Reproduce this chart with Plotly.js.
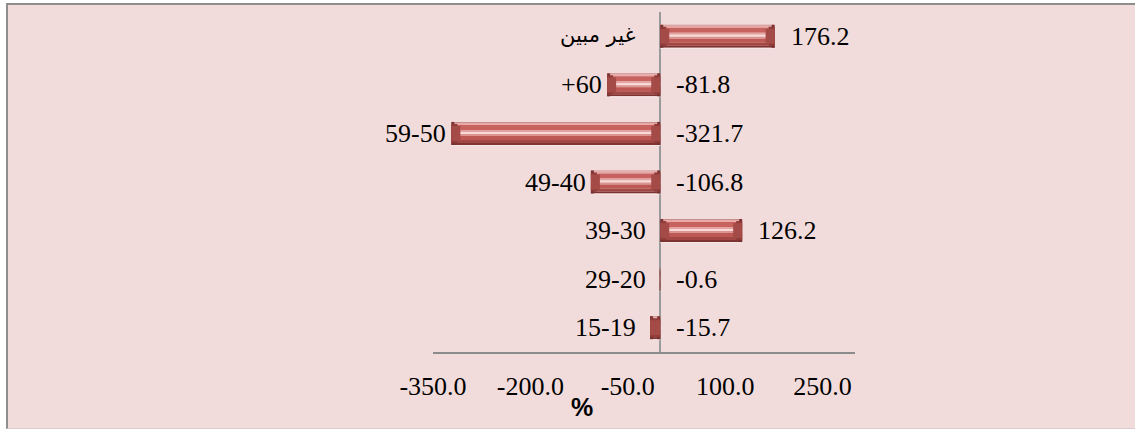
<!DOCTYPE html>
<html>
<head>
<meta charset="utf-8">
<script src="https://cdn.plot.ly/plotly-3.0.1.min.js"></script>
<style>
  html, body { margin: 0; padding: 0; background: #ffffff; width: 1135px; height: 430px; overflow: hidden; }
  #frame { position: absolute; left: 6px; top: 3px; border-left: 2px solid #8e8e8e; border-top: 2px solid #8e8e8e; border-bottom: 1px solid #d6cccc; width: 1127px; height: 423px; }
  #chart { width: 1127px; height: 423px; }
</style>
</head>
<body>
<div id="frame"><div id="chart"></div></div>
<script>
// Data
var categories = ["غير مبين", "+60", "59-50", "49-40", "39-30", "29-20", "15-19"];
var values = [176.2, -81.8, -321.7, -106.8, 126.2, -0.6, -15.7];
var valueLabels = ["176.2", "-81.8", "-321.7", "-106.8", "126.2", "-0.6", "-15.7"];
var tickValues = [-350, -200, -50, 100, 250];
var tickLabels = ["-350.0", "-200.0", "-50.0", "100.0", "250.0"];
var axisUnit = "%";

// Styling helpers
var xRange = [-350, 300];
var plotW = 422, plotH = 340;
var pxY = categories.length / plotH;          // category units per pixel
var pxX = (xRange[1] - xRange[0]) / plotW;    // value units per pixel
var barPx = 23;

// Horizontal bevel bands: [top px, bottom px, colour]
var bands = [
  [0, 1, "#c98d8b"],
  [1, 3, "#e7aaa9"],
  [3, 8, "#c8625f"],
  [8, 10, "#e4a2a0"],
  [10, 12, "#f8dad9"],
  [12, 14, "#dc9491"],
  [14, 18, "#bd5855"],
  [18, 21, "#a34745"],
  [21, 23, "#7c3331"],
  [23, 24, "#f7e8e8"]
];

function bandTrace(b, xs, bases, color) {
  var t = {
    type: "bar",
    orientation: "h",
    x: xs,
    y: categories,
    offset: (b[0] - barPx / 2) * pxY,
    width: (b[1] - b[0]) * pxY,
    marker: {color: color || b[2], line: {width: 0}},
    hoverinfo: "skip",
    showlegend: false
  };
  if (bases) t.base = bases;
  return t;
}

var traces = bands.map(function (b) { return bandTrace(b, values); });

// End bevels (both ends of each bar), approximated by stepped caps
var caps = [
  [0, 23, 3, "#7a302e"],
  [2, 21, 6, "#8e3b39"],
  [4, 19, 9, "#a44a47"]
];
caps.forEach(function (c) {
  var len = c[2] * pxX;
  var outerX = [], outerB = [], innerX = [], innerB = [];
  values.forEach(function (v) {
    var s = v < 0 ? -1 : 1;
    var l = Math.min(Math.abs(v) / 2, len);
    outerB.push(v - s * l); outerX.push(s * l);
    innerB.push(0); innerX.push(s * l);
  });
  traces.push(bandTrace([c[0], c[1]], outerX, outerB, c[3]));
  traces.push(bandTrace([c[0], c[1]], innerX, innerB, c[3]));
});

var labelFont = {family: "Liberation Serif, Times New Roman, serif", size: 26, color: "#000000"};
var arabicFont = {family: "DejaVu Sans, Noto Sans, sans-serif", size: 21, color: "#000000"};

var annotations = [];
categories.forEach(function (c, i) {
  var isArabic = /[\u0600-\u06FF]/.test(c);
  annotations.push({
    x: Math.min(values[i], 0), y: i, xref: "x", yref: "y",
    text: c, showarrow: false, xanchor: "right", yanchor: "middle",
    xshift: values[i] < -20 ? -3 : (isArabic ? -22 : -12),
    yshift: isArabic ? 1 : 0,
    font: isArabic ? arabicFont : labelFont
  });
  annotations.push({
    x: Math.max(values[i], 0), y: i, xref: "x", yref: "y",
    text: valueLabels[i], showarrow: false, xanchor: "left", yanchor: "middle",
    xshift: 14, font: labelFont
  });
});
annotations.push({
  x: 0.353, y: -0.162, xref: "paper", yref: "paper",
  text: "<b>" + axisUnit + "</b>", showarrow: false, xanchor: "center", yanchor: "middle",
  font: {family: "Liberation Sans, Arial, sans-serif", size: 25, color: "#000000"}
});

var layout = {
  width: 1127,
  height: 423,
  margin: {l: 425, r: 280, t: 7, b: 76, pad: 0},
  paper_bgcolor: "#f2dcdb",
  plot_bgcolor: "rgba(0,0,0,0)",
  barmode: "overlay",
  showlegend: false,
  xaxis: {
    range: xRange,
    autorange: false,
    tickvals: tickValues,
    ticktext: tickLabels,
    tickfont: labelFont,
    showgrid: false,
    zeroline: true,
    zerolinecolor: "#9a9a9a",
    zerolinewidth: 2,
    showline: true,
    linecolor: "#8c8c8c",
    linewidth: 2,
    ticks: "",
    ticklabelstandoff: 10,
    fixedrange: true
  },
  yaxis: {
    type: "category",
    categoryarray: categories,
    categoryorder: "array",
    range: [categories.length - 0.5, -0.5],
    autorange: false,
    showticklabels: false,
    showgrid: false,
    zeroline: false,
    showline: false,
    ticks: "",
    fixedrange: true
  },
  annotations: annotations
};

Plotly.newPlot("chart", traces, layout, {displayModeBar: false, staticPlot: true});
</script>
</body>
</html>
